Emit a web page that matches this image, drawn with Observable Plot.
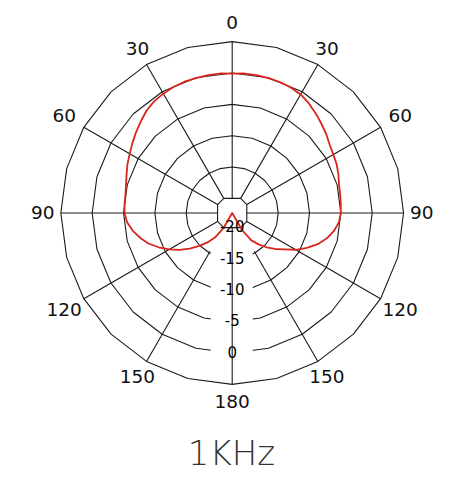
<!DOCTYPE html>
<html>
<head>
<meta charset="utf-8">
<script src="https://cdn.jsdelivr.net/npm/d3@7"></script>
<script src="https://cdn.jsdelivr.net/npm/@observablehq/plot@0.6"></script>
<style>
  html, body { margin: 0; padding: 0; background: #fff; }
  #chart { width: 463px; }
  #title { width: 463px; text-align: center; font-family: "DejaVu Sans", sans-serif; font-weight: 200; font-size: 34px; color: #333; line-height: 40px; margin-top: 3px; }
</style>
</head>
<body>
<div id="chart"></div>
<div id="title">1KHz</div>
<script>
// ---- data ----
const angles = [0,5,10,15,20,25,30,35,40,45,50,55,60,65,70,75,80,85,90,95,100,105,110,115,120,125,130,135,140,145,150,155,160,165,170,175,
  180,185,190,195,200,205,210,215,220,225,230,235,240,245,250,255,260,265,270,275,280,285,290,295,300,305,310,315,320,325,330,335,340,345,350,355];
const responseDb = [-0.1,0,0,-0.05,-0.1,-0.25,-0.5,-1.0,-1.6,-2.2,-2.75,-3.35,-3.7,-3.95,-4.3,-4.7,-4.85,-4.95,-5.0,-5.25,-5.85,-6.7,-7.8,-9.2,-10.6,-12.2,-13.4,-14.6,-15.8,-17.0,-19.2,-25,-25,-25,-25,-25,
  -25,-25,-25,-25,-25,-25,-19.6,-17.6,-16.2,-14.9,-13.5,-12.1,-10.7,-9.4,-8.1,-7.1,-6.2,-5.5,-5.15,-5.1,-5.05,-4.8,-4.4,-3.9,-3.45,-2.9,-2.3,-1.7,-1.05,-0.6,-0.35,-0.15,-0.05,-0.05,0,0];
const ringLevels = [-15, -10, -5, 0, 5];
const innerLevel = -20;
const outerLevel = 5;
const gridAngles = [0,15,30,45,60,75,90,105,120,135,150,165,180,195,210,225,240,255,270,285,300,315,330,345];
const spokeAngles = [0,30,60,90,120,150,180,210,240,270,300,330];
const angleLabels = ["0","30","60","90","120","150","180","150","120","90","60","30"];
const dbLevels = [-20,-15,-10,-5,0];
const dbLabels = ["-20","-15","-10","-5","0"];
const innerVertexAngles = [30,60,120,150,210,240,300,330];

// ---- geometry helpers ----
const W = 463, H = 430, CX = 231.7, CY = 212.5, K = 6.27; // px per dB
const floorDb = -22.33;
const rad = db => Math.max(0, db - floorDb);
const toRad = a => a * Math.PI / 180;
const X = (a, r) => r * Math.sin(toRad(a));
const Y = (a, r) => r * Math.cos(toRad(a));

const rings = ringLevels.flatMap(level => gridAngles.map(a => ({level, a, r: rad(level)})));
const innerR = rad(innerLevel) / Math.cos(toRad(30));
const inner = innerVertexAngles.map(a => ({a, r: innerR}));
const spokes = spokeAngles.map(a => {
  let r1 = (a % 90 === 0) ? rad(innerLevel) : innerR;
  if (a === 150 || a === 210) r1 = rad(-15.3);
  return {a, r1, r2: rad(outerLevel)};
});
const response = angles.map((a, i) => ({a, r: rad(responseDb[i])}));
const dbText = dbLevels.map((v, i) => ({v, label: dbLabels[i], r: rad(v)}));
const angText = spokeAngles.map((a, i) => ({a, label: angleLabels[i], r: ((a % 180 === 60 || a % 180 === 120) ? 194 : 189.5) / K}));
const gapLevels = dbText.filter(d => d.v > innerLevel);

const stroke = "#1a1a1a";
const chart = Plot.plot({
  width: W, height: H,
  margin: 0,
  x: {domain: [-CX / K, (W - CX) / K], axis: null},
  y: {domain: [-(H - CY) / K, CY / K], axis: null},
  style: {background: "white"},
  marks: [
    Plot.line(rings, {x: d => X(d.a, d.r), y: d => Y(d.a, d.r), z: "level", curve: "linear-closed", stroke, strokeWidth: 1.1}),
    Plot.line(inner, {x: d => X(d.a, d.r), y: d => Y(d.a, d.r), curve: "linear-closed", stroke, strokeWidth: 1.1}),
    Plot.link(spokes.filter(d => d.a !== 180), {x1: d => X(d.a, d.r1), y1: d => Y(d.a, d.r1), x2: d => X(d.a, d.r2), y2: d => Y(d.a, d.r2), stroke, strokeWidth: 1.1}),
    Plot.rect(gapLevels, {x1: () => -21 / K, x2: () => 21 / K, y1: d => -d.r - 2.5 / K, y2: d => -d.r + 9 / K, fill: "white"}),
    Plot.link(spokes.filter(d => d.a === 180), {x1: d => X(d.a, d.r1), y1: d => Y(d.a, d.r1), x2: d => X(d.a, d.r2), y2: d => Y(d.a, d.r2), stroke, strokeWidth: 1.1}),
    Plot.line(response, {x: d => X(d.a, d.r), y: d => Y(d.a, d.r), curve: "linear-closed", stroke: "#d9261c", strokeWidth: 1.8}),
    Plot.text(dbText, {x: () => 0, y: d => -d.r, text: "label", fontSize: 15, fill: "#000", fontFamily: "DejaVu Sans"}),
    Plot.text(angText, {x: d => X(d.a, d.r), y: d => Y(d.a, d.r), text: "label", fontSize: 18.5, fill: "#111", fontFamily: "DejaVu Sans"})
  ]
});
document.getElementById("chart").appendChild(chart);
</script>
</body>
</html>
